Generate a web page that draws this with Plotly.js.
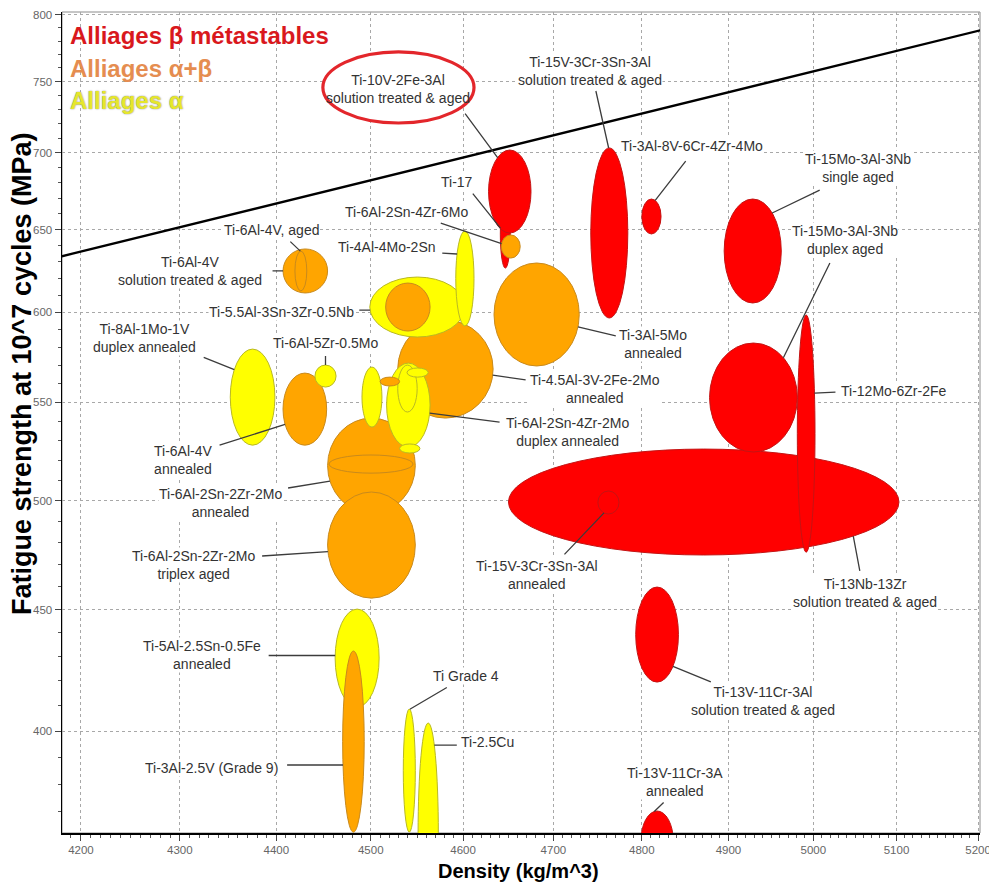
<!DOCTYPE html>
<html>
<head>
<meta charset="utf-8">
<script src="https://cdn.plot.ly/plotly-3.0.1.min.js"></script>
<style>html,body{margin:0;padding:0;background:#fff;}</style>
</head>
<body>
<div id="chart" style="width:989px;height:884px;"></div>
<script>
// ---------------- DATA ----------------
const alloyNames = [
  'Ti-13Nb-13Zr solution treated & aged',
  'Ti-15Mo-3Al-3Nb duplex aged',
  'Ti-12Mo-6Zr-2Fe',
  'Ti-15V-3Cr-3Sn-3Al annealed',
  'Ti-15V-3Cr-3Sn-3Al solution treated & aged',
  'Ti-15Mo-3Al-3Nb single aged',
  'Ti-3Al-8V-6Cr-4Zr-4Mo',
  'Ti-17',
  'Ti-10V-2Fe-3Al solution treated & aged',
  'Ti-6Al-2Sn-4Zr-6Mo',
  'Ti-13V-11Cr-3Al solution treated & aged',
  'Ti-13V-11Cr-3A annealed',
  'Ti-4.5Al-3V-2Fe-2Mo annealed',
  'Ti-3Al-5Mo annealed',
  'Ti-5.5Al-3Sn-3Zr-0.5Nb',
  '(sans étiquette 1)',
  'Ti-4Al-4Mo-2Sn',
  'Ti-6Al-4V solution treated & aged',
  'Ti-6Al-4V, aged',
  'Ti-6Al-2Sn-2Zr-2Mo annealed',
  '(sans étiquette 2)',
  'Ti-6Al-2Sn-2Zr-2Mo triplex aged',
  '(sans étiquette 3)',
  'Ti-6Al-2Sn-4Zr-2Mo duplex annealed',
  '(sans étiquette 4)',
  '(sans étiquette 5)',
  '(sans étiquette 6)',
  '(sans étiquette 7)',
  'Ti-6Al-4V annealed',
  'Ti-8Al-1Mo-1V duplex annealed',
  'Ti-6Al-5Zr-0.5Mo',
  'Ti-5Al-2.5Sn-0.5Fe annealed',
  'Ti-3Al-2.5V (Grade 9)',
  'Ti Grade 4',
  'Ti-2.5Cu'
];
const alloyFamily = [
  'beta','beta','beta','beta','beta','beta','beta','beta','beta','alphaBeta',
  'beta','beta','alphaBeta','alphaBeta','alpha','alphaBeta','alpha','alphaBeta','alphaBeta','alphaBeta',
  'alphaBeta','alphaBeta','alpha','alpha','alpha','alpha','alpha','alphaBeta','alphaBeta','alpha',
  'alpha','alpha','alphaBeta','alpha','alpha'
];
const densityMin = [4650, 4878, 4981, 4750, 4742, 4895, 4800, 4641, 4628, 4642,
  4793, 4799, 4529, 4634, 4499, 4516, 4592, 4407, 4419.5, 4454,
  4455.5, 4454, 4490.6, 4517, 4529, 4539, 4531, 4510, 4407, 4352,
  4440.6, 4462, 4470, 4535, 4551];
const densityMax = [5103, 4981, 5002, 4774, 4784, 4962, 4822, 4652, 4675, 4663,
  4842, 4836, 4633, 4729, 4602, 4564, 4612, 4454, 4432, 4548,
  4545.5, 4548, 4512, 4564, 4550, 4562, 4553, 4531, 4453, 4398.5,
  4463, 4509, 4493, 4548, 4573];
const fatigueMin = [474.4, 524.1, 475.7, 493.6, 596.7, 605.4, 647.2, 626.2, 647.8, 632.3,
  419.5, 349.7, 541.6, 569.6, 585.8, 589.2, 592.1, 611.3, 612.5, 494.0,
  513.5, 455.0, 536.9, 526.6, 544.8, 563.5, 523.6, 558.7, 527.6, 527.6,
  558.1, 409.5, 362.8, 362.8, 325.8];
const fatigueMax = [525.6, 582.4, 598.4, 504.7, 703.4, 669.5, 669.5, 668.8, 702.0, 646.6,
  459.9, 370.3, 595.5, 629.3, 620.8, 617.2, 649.1, 637.9, 636.6, 541.6,
  522.6, 504.2, 569.0, 571.2, 570.1, 568.5, 528.2, 563.5, 565.7, 579.0,
  570.1, 450.2, 432.3, 408.7, 403.2];
const labelTexts = [
  'Ti-13Nb-13Zr<br>solution treated & aged',
  'Ti-15Mo-3Al-3Nb<br>duplex aged',
  'Ti-12Mo-6Zr-2Fe',
  'Ti-15V-3Cr-3Sn-3Al<br>annealed',
  'Ti-15V-3Cr-3Sn-3Al<br>solution treated & aged',
  'Ti-15Mo-3Al-3Nb<br>single aged',
  'Ti-3Al-8V-6Cr-4Zr-4Mo',
  'Ti-17',
  'Ti-10V-2Fe-3Al<br>solution treated & aged',
  'Ti-6Al-2Sn-4Zr-6Mo',
  'Ti-13V-11Cr-3Al<br>solution treated & aged',
  'Ti-13V-11Cr-3A<br>annealed',
  'Ti-4.5Al-3V-2Fe-2Mo<br>annealed',
  'Ti-3Al-5Mo<br>annealed',
  'Ti-5.5Al-3Sn-3Zr-0.5Nb',
  '',
  'Ti-4Al-4Mo-2Sn',
  'Ti-6Al-4V<br>solution treated & aged',
  'Ti-6Al-4V, aged',
  'Ti-6Al-2Sn-2Zr-2Mo<br>annealed',
  '',
  'Ti-6Al-2Sn-2Zr-2Mo<br>triplex aged',
  '',
  'Ti-6Al-2Sn-4Zr-2Mo<br>duplex annealed',
  '', '', '', '',
  'Ti-6Al-4V<br>annealed',
  'Ti-8Al-1Mo-1V<br>duplex annealed',
  'Ti-6Al-5Zr-0.5Mo',
  'Ti-5Al-2.5Sn-0.5Fe<br>annealed',
  'Ti-3Al-2.5V (Grade 9)',
  'Ti Grade 4',
  'Ti-2.5Cu'
];
const familyNames = {beta: 'Alliages β métastables', alphaBeta: 'Alliages α+β', alpha: 'Alliages α'};
const guideStrengthPerDensity = 0.1515;   // MPa per kg/m^3 (sigma/rho constant)
const guideDensity = [4150, 5260];
const xTitle = 'Density (kg/m^3)';
const yTitle = 'Fatigue strength at 10^7 cycles (MPa)';
const highlightDensity = [4449, 4612];
const highlightFatigue = [720.6, 771.9];

// ---------------- LAYOUT / STYLE ----------------
// label placement: [edge angle (deg), leader start dx, dy (px), text dx, dy (px)]
const labelPlacement = [
  [-40, 6.7, 35.9, 11.7, 56.9],
  [47, 47, -95.6, 62, -117.6],
  [20, 21.5, -1, 79.5, -2],
  [-115, -40, 42, -67, 62],
  [92, -13, -58, -19, -77],
  [47, 48, -23, 86, -45],
  [67, 31, -40, 37, -54],
  [170, -28.1, -35.1, -43.1, -46.1],
  [125, -33, -44.5, -100, -68.5],
  [165, -61.3, -20.5, -95.3, -31.5],
  [-42, 38.4, 15.7, 90.4, 34.7],
  [100, 9.8, -9.5, 20.8, -29.5],
  [-7, 33.4, 5, 102.4, 14],
  [-14, 38.3, 9, 75.3, 17],
  [186, -11.3, 0, -88.3, 2],
  null,
  [149, -15.3, -1, -70.3, -7],
  [180, -11, 0, -93, 0],
  [95, -10.5, -10, -28.5, -21],
  [199, -42.4, 7, -109.4, 21.5],
  null,
  [187, -66.3, 4.5, -134.3, 13.5],
  null,
  [-11, 70.4, 9, 137.4, 19],
  null, null, null, null,
  [205, -66, 21, -102, 35.3],
  [145, -31.1, -12.4, -90, -31.4],
  [90, 0, -10, -0.5, -22],
  [177, -67, 0, -133, 0],
  [195, -56.4, 0, -131.4, 3],
  [85, 37.5, -22, 56.5, -33],
  [53, 23, 0, 53, -3]
];
const fillColor = {beta: '#ff0000', alphaBeta: '#ffa500', alpha: '#ffff00'};
const edgeColor = {beta: '#c41414', alphaBeta: '#c98a1c', alpha: '#b9b923'};
const legendColor = {beta: '#d9181d', alphaBeta: '#e58d50', alpha: '#e6e62c'};
const FONT = 'Liberation Sans, Arial, sans-serif';

const L = Math.log10;
const shapes = [];
shapes.push({type: 'rect', xref: 'paper', yref: 'paper', x0: 0, x1: 1, y0: 0, y1: 1,
  line: {color: '#8c8c8c', width: 1}, layer: 'below'});

alloyNames.forEach((n, i) => {
  const fam = alloyFamily[i];
  shapes.push({type: 'circle', xref: 'x', yref: 'y',
    x0: densityMin[i], x1: densityMax[i], y0: fatigueMin[i], y1: fatigueMax[i],
    fillcolor: fillColor[fam], line: {color: edgeColor[fam], width: 1}, layer: 'above'});
});

// highlight ring around the Ti-10V-2Fe-3Al label
shapes.push({type: 'circle', xref: 'x', yref: 'y',
  x0: highlightDensity[0], x1: highlightDensity[1], y0: highlightFatigue[0], y1: highlightFatigue[1],
  fillcolor: '#ffffff', line: {color: '#e3262b', width: 3.2}, layer: 'above'});

const leaderAnns = [];
const textAnns = [];
alloyNames.forEach((n, i) => {
  const p = labelPlacement[i];
  if (!p || !labelTexts[i]) return;
  const [t, sx, sy, tx, ty] = p;
  const a = t * Math.PI / 180;
  const cx = (L(densityMin[i]) + L(densityMax[i])) / 2, rx = (L(densityMax[i]) - L(densityMin[i])) / 2;
  const cy = (L(fatigueMin[i]) + L(fatigueMax[i])) / 2, ry = (L(fatigueMax[i]) - L(fatigueMin[i])) / 2;
  const lx = cx + rx * Math.cos(a), ly = cy + ry * Math.sin(a);
  leaderAnns.push({xref: 'x', yref: 'y', x: lx, y: ly, ax: sx, ay: sy, axref: 'pixel', ayref: 'pixel',
    text: ' ', font: {size: 1}, borderpad: 0, showarrow: true, arrowhead: 0,
    arrowwidth: 1.3, arrowcolor: '#3c3c3c', standoff: 0, startstandoff: 0});
  textAnns.push({xref: 'x', yref: 'y', x: lx, y: ly, xshift: tx, yshift: -ty,
    text: labelTexts[i], showarrow: false, align: 'center',
    xanchor: 'center', yanchor: 'middle',
    font: {family: FONT, size: 14, color: '#333333'},
    bgcolor: i === 8 ? 'rgba(0,0,0,0)' : '#ffffff', borderpad: 0});
});
const annotations = leaderAnns.concat(textAnns);

// legend-like family titles
const legendY = {beta: 0.9708, alphaBeta: 0.9306, alpha: 0.8916};
['beta', 'alphaBeta', 'alpha'].forEach(f => {
  annotations.push({xref: 'paper', yref: 'paper', x: 0.0065, y: legendY[f],
    xanchor: 'left', yanchor: 'middle', showarrow: false, text: familyNames[f],
    font: {family: FONT, size: 24, weight: 700, color: legendColor[f],
      shadow: f === 'alpha' ? '0px 0px 1.5px #707070' : 'none'}});
});

// axis titles
annotations.push({xref: 'paper', yref: 'paper', x: 0.4978, y: -0.0463, xanchor: 'center', yanchor: 'middle',
  showarrow: false, text: xTitle, font: {family: FONT, size: 20, weight: 700, color: '#000'}});
annotations.push({xref: 'paper', yref: 'paper', x: -0.0436, y: 0.5591, xanchor: 'center', yanchor: 'middle',
  textangle: -90, showarrow: false, text: yTitle, font: {family: FONT, size: 27, weight: 700, color: '#000'}});

const guideTrace = {
  type: 'scatter', mode: 'lines', hoverinfo: 'skip',
  x: guideDensity, y: guideDensity.map(d => d * guideStrengthPerDensity),
  line: {color: '#000000', width: 2.3}
};

const layout = {
  width: 989, height: 884,
  margin: {l: 62, r: 9, t: 12, b: 51},
  paper_bgcolor: '#ffffff', plot_bgcolor: '#ffffff',
  showlegend: false,
  xaxis: {
    type: 'log', range: [L(4181.1), L(5202.4)], dtick: 'L100', tick0: 0, tickformat: 'd',
    showgrid: true, gridcolor: '#a8a8a8', griddash: '3px,3px', gridwidth: 1,
    zeroline: false, showline: true, linecolor: '#000', linewidth: 1.5,
    ticks: 'outside', ticklen: 6, tickcolor: '#444', tickwidth: 1,
    tickfont: {family: FONT, size: 11.5, color: '#666'}, ticklabeloverflow: 'allow',
    minor: {dtick: 'L10', tick0: 0, ticks: 'outside', ticklen: 3, tickcolor: '#555', showgrid: false},
    automargin: false, fixedrange: true
  },
  yaxis: {
    type: 'log', range: [L(362.5), L(802.3)], dtick: 'L50', tick0: 0, tickformat: 'd',
    showgrid: true, gridcolor: '#a8a8a8', griddash: '3px,3px', gridwidth: 1,
    zeroline: false, showline: true, linecolor: '#000', linewidth: 1.5,
    ticks: 'outside', ticklen: 6, tickcolor: '#444', tickwidth: 1,
    tickfont: {family: FONT, size: 11.5, color: '#666'},
    minor: {dtick: 'L10', tick0: 0, ticks: 'outside', ticklen: 3, tickcolor: '#555', showgrid: false},
    automargin: false, fixedrange: true
  },
  shapes: shapes,
  annotations: annotations
};

Plotly.newPlot('chart', [guideTrace], layout, {displayModeBar: false, staticPlot: true});
</script>
</body>
</html>
